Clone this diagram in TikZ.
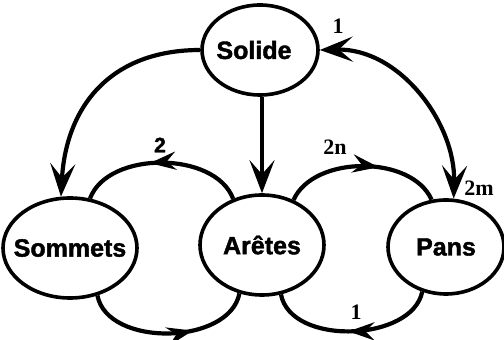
\documentclass[tikz,border=0pt]{standalone}
\usepackage{fontspec}
\setmainfont{Liberation Serif}
\newfontfamily\hvfont{Liberation Sans}[BoldFeatures={FakeBold=1.6}]
\usetikzlibrary{arrows.meta,shapes.geometric,decorations.markings}
\begin{document}
\begin{tikzpicture}[x=1pt,y=1pt,
  >={Stealth[length=33pt,width=25pt,inset=14pt]},
  ent/.style={draw, ellipse, line width=3.6pt, inner sep=0pt, font=\hvfont\bfseries\fontsize{25}{29}\selectfont},
  conn/.style={line width=4.2pt},
  lbl/.style={font=\bfseries\fontsize{22}{26}\selectfont, inner sep=0pt},
  lbls/.style={font=\hvfont\bfseries\fontsize{21}{25}\selectfont, inner sep=0pt},
  midarrow/.style={postaction={decorate},decoration={markings,mark=at position #1 with {\arrow{Stealth[length=26pt,width=18pt,inset=9pt]}}}},
]
\useasboundingbox (0,0) rectangle (504,340);
\node[ent, minimum width=116pt, minimum height=90pt] (sol) at (260,290) {\makebox[0pt]{Solide\hspace{12pt}}};
\node[ent, minimum width=134pt, minimum height=100pt] (som) at (70,92) {\makebox[0pt]{Sommets}};
\node[ent, minimum width=124pt, minimum height=100pt] (ar) at (262,95) {\makebox[0pt]{Arêtes}};
\node[ent, minimum width=116pt, minimum height=94pt] (pa) at (446,93) {\makebox[0pt]{Pans}};

\draw[conn, ->] (sol.west) .. controls +(-90,0) and +(5,90) .. (som.100);
\draw[conn, ->] (ar.north |- sol.south) -- (ar.north);
\draw[conn, <->] (sol.east) .. controls +(80,2) and +(2,75) .. (pa.81);
\draw[conn, midarrow=0.57] (ar.122) .. controls +(-18,48) and +(18,48) .. (som.68);
\draw[conn, midarrow=0.6] (ar.55) .. controls +(20,45) and +(-20,45) .. (pa.107);
\draw[conn, midarrow=0.64] (som.-60) .. controls +(10,-52) and +(-10,-52) .. (ar.245);
\draw[conn, midarrow=0.52] (pa.242) .. controls +(-10,-50) and +(10,-52) .. (ar.-69);

\node[lbl] (l1) at (338,314) {1};
\node[lbls] (l2) at (160,195) {2};
\node[lbl] (l2n) at (335,193) {2n};
\node[lbl] (l2m) at (479,152) {2m};
\node[lbl] (l1b) at (356,28) {1};
\end{tikzpicture}
\end{document}
